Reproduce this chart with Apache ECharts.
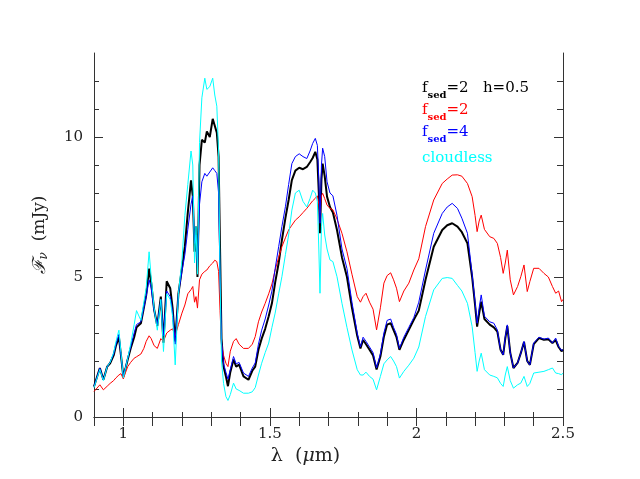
<!DOCTYPE html>
<html>
<head>
<meta charset="utf-8">
<script src="https://cdn.jsdelivr.net/npm/echarts@6/dist/echarts.min.js"></script>
<style>
  html, body { margin: 0; padding: 0; background: #fff; }
  #chart { width: 640px; height: 479px; }
</style>
</head>
<body>
<div id="chart"></div>
<script>
// wavelength grid (micron), shared by all four spectra
var wavelength = [
  0.900, 0.920, 0.932, 0.945, 0.955, 0.967, 0.975, 0.985, 0.992, 1.000,
  1.008, 1.015, 1.025, 1.037, 1.045, 1.060, 1.070, 1.078, 1.088, 1.095,
  1.105, 1.116, 1.128, 1.137, 1.148, 1.160, 1.168, 1.177, 1.188, 1.200,
  1.210, 1.220, 1.231, 1.237, 1.243, 1.248, 1.253, 1.260, 1.268, 1.278,
  1.285, 1.295, 1.305, 1.312, 1.319, 1.325, 1.330, 1.335, 1.342, 1.350,
  1.357, 1.365, 1.376, 1.385, 1.395, 1.410, 1.427, 1.440, 1.450, 1.461,
  1.472, 1.484, 1.496, 1.507, 1.518, 1.530, 1.541, 1.553, 1.564, 1.575,
  1.587, 1.600, 1.613, 1.626, 1.637, 1.646, 1.655, 1.662, 1.667, 1.671,
  1.676, 1.680, 1.687, 1.695, 1.705, 1.715, 1.729, 1.746, 1.763, 1.780,
  1.798, 1.809, 1.818, 1.828, 1.840, 1.852, 1.864, 1.877, 1.889, 1.900,
  1.912, 1.922, 1.932, 1.942, 1.957, 1.974, 1.991, 2.008, 2.031, 2.059,
  2.088, 2.105, 2.122, 2.140, 2.155, 2.174, 2.190, 2.200, 2.207, 2.214,
  2.221, 2.232, 2.250, 2.264, 2.276, 2.287, 2.296, 2.303, 2.310, 2.320,
  2.331, 2.345, 2.356, 2.367, 2.378, 2.387, 2.400, 2.418, 2.435, 2.450,
  2.464, 2.475, 2.485, 2.495, 2.500
];

// fsed=2 h=0.5 (black)
var fluxSed2h05 = [
  1.09, 1.75, 1.33, 1.80, 1.92, 2.20, 2.55, 2.85, 2.20, 1.45,
  1.75, 2.05, 2.45, 2.85, 3.20, 3.35, 3.90, 4.35, 5.30, 4.80,
  3.85, 3.25, 4.30, 2.65, 4.85, 4.60, 3.90, 2.70, 4.40, 5.30,
  6.10, 7.30, 8.45, 7.90, 5.90, 6.80, 5.00, 9.00, 9.90, 9.80,
  10.20, 10.00, 10.65, 10.40, 10.15, 9.30, 6.00, 2.80, 1.80, 1.45,
  1.10, 1.60, 2.05, 1.80, 1.87, 1.45, 1.33, 1.65, 1.80, 2.40,
  2.80, 3.15, 3.60, 4.06, 4.80, 5.50, 6.32, 7.10, 7.75, 8.46,
  8.80, 8.90, 8.85, 8.93, 9.10, 9.25, 9.47, 9.20, 8.00, 6.56,
  8.50, 9.05, 8.60, 7.87, 7.50, 7.30, 6.68, 5.70, 5.00, 3.90,
  2.90, 2.45, 2.75, 2.60, 2.40, 2.20, 1.70, 2.16, 2.87, 3.30,
  3.35, 3.10, 2.85, 2.40, 2.76, 3.11, 3.47, 3.80, 4.90, 6.08,
  6.68, 6.85, 6.92, 6.80, 6.60, 6.20, 5.00, 4.00, 3.23, 3.70,
  4.12, 3.50, 3.30, 3.20, 3.05, 2.40, 2.22, 2.80, 3.25, 2.30,
  1.75, 1.93, 2.28, 2.68, 2.00, 1.86, 2.60, 2.82, 2.76, 2.78,
  2.64, 2.75, 2.50, 2.35, 2.40
];

// fsed=2 (red)
var fluxSed2 = [
  0.91, 1.15, 0.97, 1.10, 1.20, 1.30, 1.40, 1.50, 1.55, 1.36,
  1.60, 1.80, 1.95, 2.10, 2.15, 2.25, 2.45, 2.70, 2.90, 2.80,
  2.55, 2.45, 2.80, 2.70, 3.00, 3.10, 3.15, 2.90, 3.30, 3.71,
  4.00, 4.40, 4.55, 4.66, 4.10, 4.30, 3.89, 4.90, 5.10, 5.20,
  5.25, 5.40, 5.50, 5.60, 5.55, 5.20, 3.80, 2.60, 2.20, 1.92,
  1.80, 2.35, 2.70, 2.80, 2.60, 2.45, 2.45, 2.60, 2.87, 3.40,
  3.75, 4.06, 4.40, 4.75, 5.25, 5.70, 6.08, 6.40, 6.68, 6.85,
  7.03, 7.15, 7.30, 7.45, 7.60, 7.72, 7.81, 7.90, 7.60, 7.30,
  7.90, 7.99, 7.80, 7.57, 7.45, 7.40, 7.07, 6.56, 5.90, 5.10,
  4.30, 4.10, 4.30, 4.42, 4.10, 3.85, 3.11, 3.90, 4.78, 5.05,
  5.15, 4.90, 4.60, 4.12, 4.50, 4.78, 5.25, 5.65, 6.80, 7.75,
  8.34, 8.50, 8.64, 8.65, 8.60, 8.34, 7.87, 7.20, 6.62, 7.00,
  7.21, 6.70, 6.44, 6.38, 6.20, 5.70, 5.13, 5.50, 5.96, 4.90,
  4.36, 4.66, 5.01, 5.43, 4.48, 4.84, 5.31, 5.31, 5.13, 5.00,
  4.66, 4.42, 4.50, 4.12, 4.20
];

// fsed=4 (blue)
var fluxSed4 = [
  1.09, 1.75, 1.33, 1.80, 1.95, 2.25, 2.60, 2.95, 2.20, 1.45,
  1.80, 2.10, 2.50, 3.00, 3.30, 3.40, 3.90, 4.30, 4.90, 4.60,
  3.80, 3.30, 4.20, 2.90, 4.50, 4.30, 3.80, 2.60, 4.40, 5.20,
  5.80, 6.70, 7.60, 7.90, 6.20, 6.50, 5.30, 7.60, 8.40, 8.70,
  8.60, 8.75, 8.90, 8.80, 8.70, 8.00, 5.00, 2.70, 1.90, 1.60,
  1.35, 1.70, 2.16, 1.90, 1.95, 1.57, 1.45, 1.75, 1.93, 2.60,
  3.10, 3.50, 4.00, 4.50, 5.30, 6.08, 6.80, 7.51, 8.30, 9.05,
  9.30, 9.40, 9.30, 9.23, 9.50, 9.77, 9.95, 9.70, 8.50, 6.92,
  9.00, 9.60, 9.30, 8.40, 8.00, 7.90, 7.20, 6.00, 5.30, 4.10,
  3.00, 2.50, 2.85, 2.70, 2.50, 2.30, 1.75, 2.25, 3.00, 3.45,
  3.50, 3.20, 2.95, 2.45, 2.85, 3.20, 3.55, 4.10, 5.25, 6.56,
  7.27, 7.50, 7.63, 7.45, 7.10, 6.56, 5.10, 4.10, 3.35, 3.90,
  4.36, 3.60, 3.40, 3.35, 3.11, 2.40, 2.22, 2.85, 3.29, 2.30,
  1.75, 1.93, 2.28, 2.70, 2.00, 1.86, 2.64, 2.85, 2.78, 2.82,
  2.64, 2.82, 2.52, 2.38, 2.40
];

// cloudless (cyan)
var fluxCloudless = [
  1.05, 1.70, 1.30, 1.80, 1.95, 2.30, 2.70, 3.10, 2.30, 1.40,
  1.75, 2.10, 2.60, 3.30, 3.80, 3.45, 4.10, 4.60, 5.90, 5.00,
  3.90, 3.10, 4.20, 2.34, 4.40, 4.20, 3.60, 1.86, 4.40, 5.60,
  7.20, 8.30, 9.50, 9.00, 5.50, 6.80, 5.10, 9.80, 11.40, 12.10,
  11.70, 11.80, 12.10, 11.50, 11.10, 9.50, 5.00, 2.00, 1.20, 0.73,
  0.59, 0.80, 1.21, 1.00, 0.95, 0.85, 0.85, 0.90, 1.05, 1.50,
  1.92, 2.30, 2.64, 3.20, 3.71, 4.40, 5.01, 5.80, 6.50, 7.39,
  8.00, 8.10, 7.70, 7.50, 7.80, 8.10, 8.00, 7.70, 6.00, 4.42,
  6.80, 7.27, 6.50, 6.00, 5.61, 5.55, 5.01, 4.06, 3.20, 2.40,
  1.69, 1.50, 1.50, 1.60, 1.45, 1.35, 0.97, 1.45, 1.90, 2.04,
  2.16, 2.00, 1.80, 1.39, 1.63, 1.85, 2.10, 2.50, 3.59, 4.54,
  4.95, 4.98, 4.95, 4.70, 4.50, 4.06, 3.23, 2.30, 1.63, 2.00,
  2.28, 1.69, 1.50, 1.45, 1.40, 1.20, 1.09, 1.50, 1.80, 1.30,
  1.03, 1.15, 1.21, 1.45, 1.09, 1.20, 1.57, 1.60, 1.63, 1.69,
  1.75, 1.57, 1.55, 1.51, 1.57
];

// axis ticks
var xMajorTicks = [1, 1.5, 2, 2.5];
var xMinorTicks = [0.9, 1.0, 1.1, 1.2, 1.3, 1.4, 1.5, 1.6, 1.7, 1.8, 1.9, 2.0, 2.1, 2.2, 2.3, 2.4, 2.5];
var yMajorTicks = [0, 5, 10];
var yMinorTicks = [1, 2, 3, 4, 6, 7, 8, 9, 11, 12];

var font = "DejaVu Serif";
var axisColor = "#333";

function pairs(flux) {
  return wavelength.map(function (w, i) {
    return [w, flux[i]];
  });
}

function tickAxis(pos, ticks, len, withLine) {
  var vertical = pos === "left" || pos === "right";
  return {
    type: "value",
    position: pos,
    min: vertical ? 0 : 0.9,
    max: vertical ? 13 : 2.5,
    axisLine: { show: withLine, lineStyle: { color: axisColor, width: 1 } },
    axisTick: {
      show: true,
      inside: true,
      length: len,
      customValues: ticks,
      lineStyle: { color: axisColor, width: 1 }
    },
    axisLabel: { show: false },
    splitLine: { show: false }
  };
}

var chart = echarts.init(document.getElementById("chart"));

var xBottom = tickAxis("bottom", xMajorTicks, 9, true);
xBottom.axisLabel = {
  show: true,
  customValues: xMajorTicks,
  margin: 10,
  color: "#222",
  fontFamily: font,
  fontSize: 15
};
xBottom.name = "{n|λ  (}{i|μ}{n|m)}";
xBottom.nameLocation = "middle";
xBottom.nameGap = 26;
xBottom.nameTextStyle = {
  padding: [0, 46, 0, 0],
  rich: {
    n: { fontFamily: font, fontSize: 19, color: "#222" },
    i: { fontFamily: font, fontSize: 19, fontStyle: "italic", color: "#222" }
  }
};

var yLeft = tickAxis("left", yMajorTicks, 9, true);
yLeft.axisLabel = {
  show: true,
  customValues: yMajorTicks,
  margin: 11,
  color: "#222",
  fontFamily: font,
  fontSize: 15
};
yLeft.name = "{f|ℱ}{v|ν}{n|  (mJy)}";
yLeft.nameLocation = "middle";
yLeft.nameGap = 44;
yLeft.nameTextStyle = {
  rich: {
    f: { fontFamily: font, fontSize: 18, fontStyle: "italic", color: "#222" },
    v: { fontFamily: font, fontSize: 12, fontStyle: "italic", color: "#222", padding: [8, 0, 0, 0] },
    n: { fontFamily: font, fontSize: 17, color: "#222" }
  }
};

var textRich = {
  f: { fontFamily: font, fontSize: 15, lineHeight: 18, verticalAlign: "top" },
  s: { fontFamily: font, fontSize: 10, fontWeight: "bold", lineHeight: 10, verticalAlign: "top", padding: [9, 0, 0, 0] },
  n: { fontFamily: font, fontSize: 15, lineHeight: 18, verticalAlign: "top" }
};

function legendText(top, str, color) {
  var rich = {};
  Object.keys(textRich).forEach(function (k) {
    rich[k] = Object.assign({ fill: color }, textRich[k]);
  });
  return {
    type: "text",
    left: 422,
    top: top,
    style: { text: str, rich: rich, fill: color }
  };
}

var option = {
  animation: false,
  backgroundColor: "#fff",
  grid: { left: 94, right: 77, top: 53, bottom: 62, containLabel: false },
  xAxis: [
    xBottom,
    tickAxis("bottom", xMinorTicks, 5, false),
    tickAxis("top", xMinorTicks, 9, true)
  ],
  yAxis: [
    yLeft,
    tickAxis("left", yMinorTicks, 5, false),
    tickAxis("right", yMajorTicks, 9, true),
    tickAxis("right", yMinorTicks, 6, false)
  ],
  graphic: [
    legendText(81, "{f|f}{s|sed}{n|=2   h=0.5}", "#000"),
    legendText(103, "{f|f}{s|sed}{n|=2}", "#ff0000"),
    legendText(125, "{f|f}{s|sed}{n|=4}", "#0000ff"),
    {
      type: "text",
      left: 422,
      top: 151,
      style: { text: "cloudless", fill: "#00ffff", font: "15px " + font }
    }
  ],
  series: [
    {
      name: "fsed=2 h=0.5",
      type: "line",
      data: pairs(fluxSed2h05),
      showSymbol: false,
      lineStyle: { color: "#000", width: 2 }
    },
    {
      name: "fsed=2",
      type: "line",
      data: pairs(fluxSed2),
      showSymbol: false,
      lineStyle: { color: "#ff0000", width: 1 }
    },
    {
      name: "fsed=4",
      type: "line",
      data: pairs(fluxSed4),
      showSymbol: false,
      lineStyle: { color: "#0000ff", width: 1 }
    },
    {
      name: "cloudless",
      type: "line",
      data: pairs(fluxCloudless),
      showSymbol: false,
      lineStyle: { color: "#00ffff", width: 1 }
    }
  ]
};

chart.setOption(option);
</script>
</body>
</html>
